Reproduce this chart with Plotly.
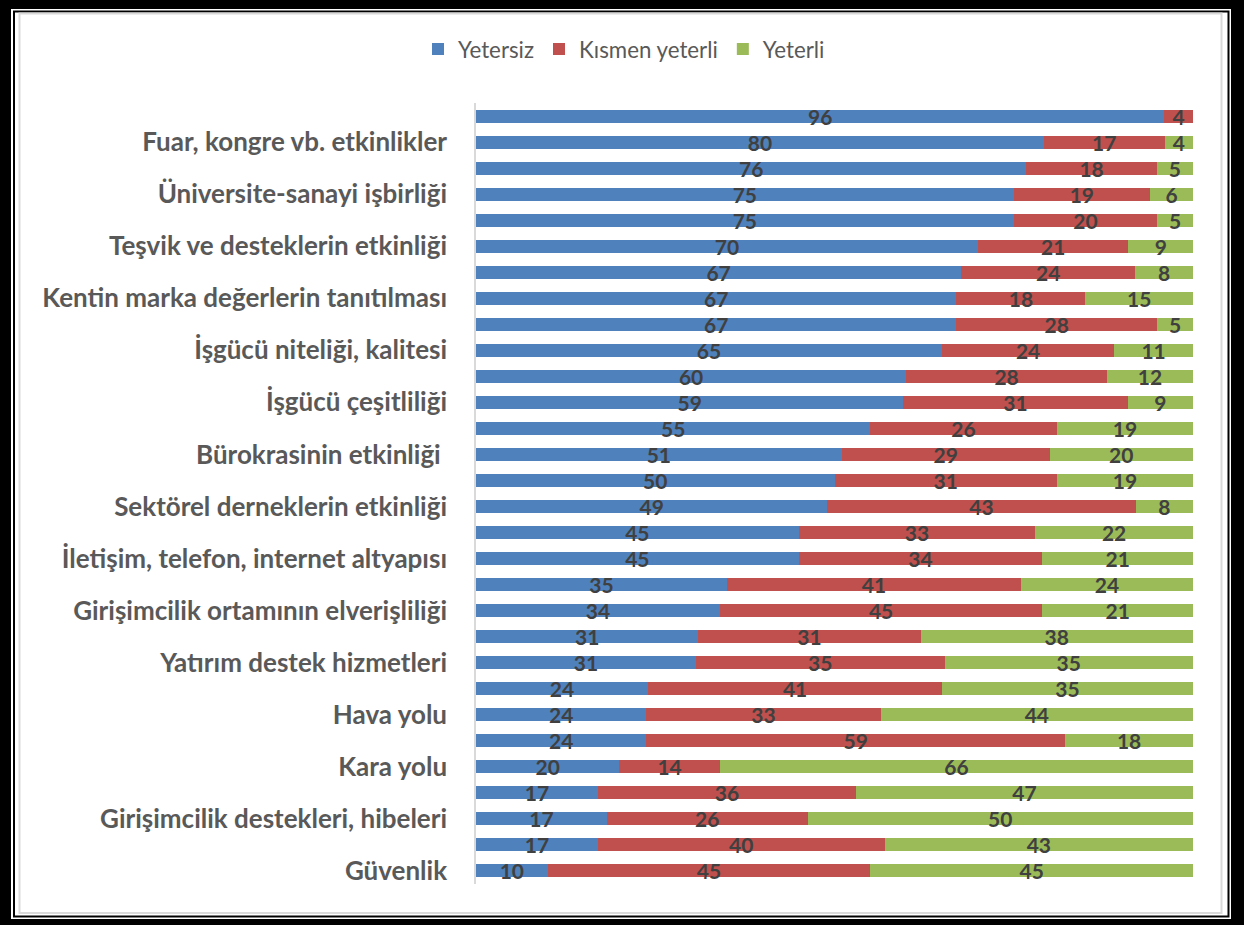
import plotly.graph_objects as go

# ---- data (top to bottom) ----
row_labels = [
    "Fuar, kongre vb. etkinlikler",
    "Üniversite-sanayi işbirliği",
    "Teşvik ve desteklerin etkinliği",
    "Kentin marka değerlerin tanıtılması",
    "İşgücü niteliği, kalitesi",
    "İşgücü çeşitliliği",
    "Bürokrasinin etkinliği\u00a0",
    "Sektörel derneklerin etkinliği",
    "İletişim, telefon, internet altyapısı",
    "Girişimcilik ortamının elverişliliği",
    "Yatırım destek hizmetleri",
    "Hava yolu",
    "Kara yolu",
    "Girişimcilik destekleri, hibeleri",
    "Güvenlik",
]
series_names = ["Yetersiz", "Kısmen yeterli", "Yeterli"]
yetersiz = [96, 80, 76, 75, 75, 70, 67, 67, 67, 65, 60, 59, 55, 51, 50,
            49, 45, 45, 35, 34, 31, 31, 24, 24, 24, 20, 17, 17, 17, 10]
kismen = [4, 17, 18, 19, 20, 21, 24, 18, 28, 24, 28, 31, 26, 29, 31,
          43, 33, 34, 41, 45, 31, 35, 41, 33, 59, 14, 36, 26, 40, 45]
yeterli = [0, 4, 5, 6, 5, 9, 8, 15, 5, 11, 12, 9, 19, 20, 19,
           8, 22, 21, 24, 21, 38, 35, 35, 44, 18, 66, 47, 50, 43, 45]

colors = ["#4F81BD", "#C0504D", "#9BBB59"]

n = len(yetersiz)
pos = list(range(n))
label_pos = pos[1::2]

W, H = 1244, 925
L, R, T, B = 476, 51, 103, 41
pw, ph = W - L - R, H - T - B


def px(x):
    return (x - L) / pw


def py(y):
    return 1 - (y - T) / ph


fig = go.Figure()
for name, vals, col in zip(series_names, [yetersiz, kismen, yeterli], colors):
    fig.add_trace(go.Bar(
        name=name, x=vals, y=pos, orientation="h",
        marker=dict(color=col, line=dict(width=0)),
        text=[str(v) if v else "" for v in vals],
        textposition="inside", insidetextanchor="middle", textangle=0,
        textfont=dict(family="Lato", size=21, color="#404040", weight="bold"),
        hoverinfo="skip",
    ))

shapes = [
    dict(type="rect", xref="paper", yref="paper", layer="below",
         x0=px(11), x1=px(1231), y0=py(9), y1=py(919),
         fillcolor="white", line=dict(width=0)),
    dict(type="rect", xref="paper", yref="paper", layer="below",
         x0=px(14), x1=px(1228.5), y0=py(11.5), y1=py(916.5),
         fillcolor="white", line=dict(color="black", width=2)),
    dict(type="rect", xref="paper", yref="paper", layer="below",
         x0=px(19.5), x1=px(1221.5), y0=py(13.5), y1=py(913),
         fillcolor="rgba(0,0,0,0)", line=dict(color="#d9d9d9", width=2)),
]

fig.update_layout(
    width=W, height=H,
    margin=dict(l=L, r=R, t=T, b=B, autoexpand=False),
    paper_bgcolor="black", plot_bgcolor="white",
    barmode="stack", barnorm="percent", bargap=0.5,
    uniformtext=dict(mode="show", minsize=21),
    shapes=shapes,
    showlegend=True,
    legend=dict(orientation="h", x=px(624), y=py(49), xanchor="center", yanchor="middle",
                font=dict(family="Lato", size=22.3, color="#595959"),
                traceorder="normal", bgcolor="rgba(0,0,0,0)"),
    xaxis=dict(range=[0, 100], visible=False, showgrid=False, zeroline=False, fixedrange=True),
    yaxis=dict(range=[n - 0.5, -0.5], tickmode="array", tickvals=label_pos, ticktext=row_labels,
               showgrid=False, zeroline=False, showline=True, linecolor="#d9d9d9", linewidth=1.5,
               ticks="", ticklabelstandoff=22, automargin=False, fixedrange=True,
               tickfont=dict(family="Lato", size=26, color="#595959", weight="bold")),
)

fig.write_html("out.html", config={"displayModeBar": False},
               post_script="document.body.style.margin='0px';document.body.style.overflow='hidden';")
